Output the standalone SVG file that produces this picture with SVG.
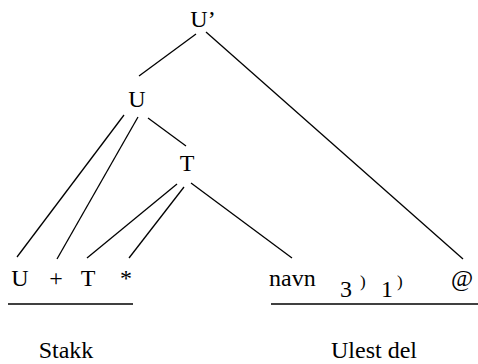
<svg xmlns="http://www.w3.org/2000/svg" width="478" height="364" viewBox="0 0 478 364">
<style>
text{font-family:"Liberation Serif","Times New Roman",serif;font-size:24px;fill:#000}
.m{text-anchor:middle}
.sm{font-size:17px}
line{stroke:#000;stroke-width:1.3}
</style>
<rect width="478" height="364" fill="#fff"/>
<g id="connectors">
<line x1="196" y1="34" x2="139" y2="76"/>
<line x1="206" y1="32" x2="463" y2="259"/>
<line x1="124" y1="115" x2="17" y2="257"/>
<line x1="138" y1="117" x2="57" y2="259"/>
<line x1="148" y1="118" x2="186" y2="146"/>
<line x1="177" y1="184" x2="87" y2="258"/>
<line x1="184" y1="187" x2="129" y2="258"/>
<line x1="191" y1="183" x2="292" y2="258"/>
<line x1="8" y1="304" x2="133" y2="304"/>
<line x1="271" y1="304" x2="478" y2="304"/>
</g>
<g id="n-Uprime"><text class="m" x="203" y="27">U’</text></g>
<g id="n-U"><text class="m" x="137" y="107">U</text></g>
<g id="n-T"><text class="m" x="187" y="171">T</text></g>
<g id="n-U2"><text class="m" x="20" y="286">U</text></g>
<g id="n-plus"><text class="m" x="56" y="286">+</text></g>
<g id="n-T2"><text class="m" x="88" y="286">T</text></g>
<g id="n-star"><text class="m" x="126" y="286">*</text></g>
<g id="n-navn"><text x="269" y="286">navn</text></g>
<g id="rest">
<text x="340" y="297">3</text><text class="sm" x="360" y="287">)</text>
<text x="381" y="297">1</text><text class="sm" x="397" y="287">)</text>
</g>
<g id="n-at"><text class="m" x="462" y="286">@</text></g>
<g id="labels">
<text class="m" x="66" y="358">Stakk</text>
<text class="m" x="374" y="358">Ulest del</text>
</g>
</svg>
